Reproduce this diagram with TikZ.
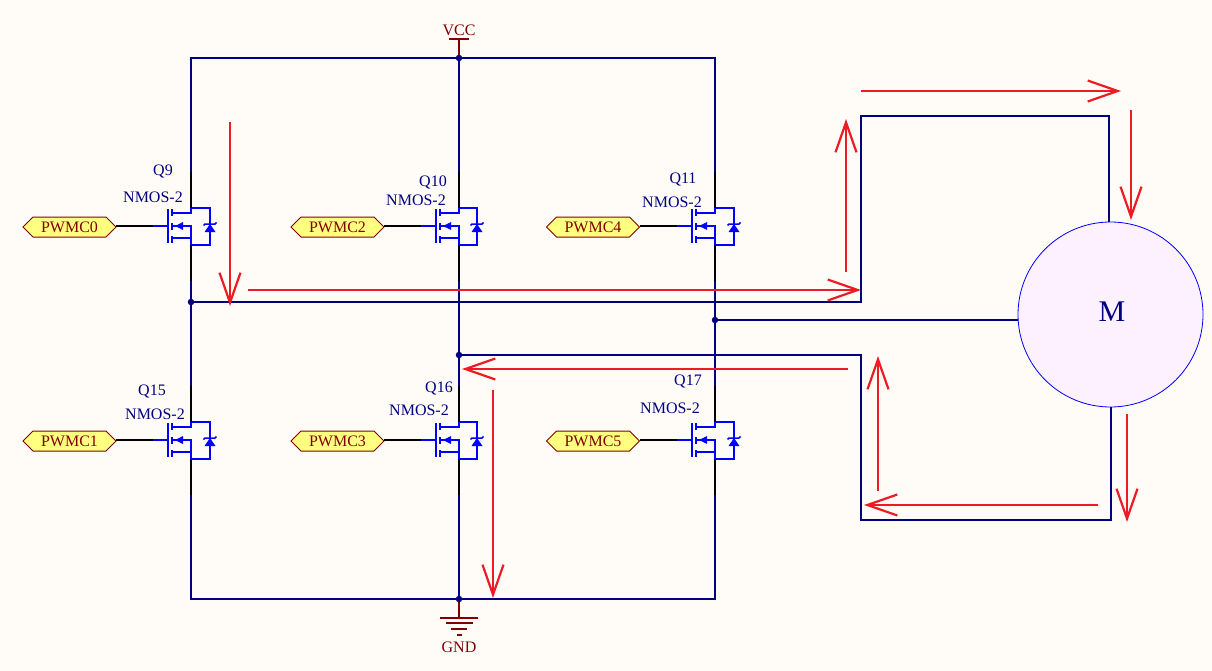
\documentclass[tikz,border=0pt]{standalone}
\usepackage{fontspec}
\setmainfont{Liberation Serif}
\usetikzlibrary{arrows.meta,shapes.symbols}
\definecolor{paper}{HTML}{FFFCF8}
\definecolor{wirenavy}{HTML}{000080}
\definecolor{netred}{HTML}{800000}
\definecolor{flowred}{HTML}{ED1C24}
\definecolor{portfill}{HTML}{FFFF80}
\definecolor{motorfill}{HTML}{FDF0FF}
\tikzset{
  nmos/.pic={
    \draw[fet] (0,-18) -- (#1,-18) -- (#1,19) -- (0,19);
    \draw[fet] (0,-18) -- (0,-13) -- (-19,-13);
    \draw[fet] (-19,0) -- (0,0) -- (0,12) -- (-19,12);
    \draw[fet] (0,19) -- (0,12);
    \draw[fet] (-38,0) -- (-23,0);
    \draw[fet] (-23,-17) -- (-23,17);
    \draw[fet] (-19,-17) -- (-19,-10);
    \draw[fet] (-19,-3) -- (-19,4);
    \draw[fet] (-19,10) -- (-19,17);
    \fill[blue] (-16,0) -- (-8,-4) -- (-8,4) -- cycle;
    \fill[blue] (#1,-2) -- (#1+5.5,6) -- (#1-5.5,6) -- cycle;
    \draw[blue, line width=1.5pt] (#1-6.5,-.5) -- (#1-5,-2) -- (#1+5,-2) -- (#1+6.5,-3.5);
    \coordinate (-d) at (0,-18);
    \coordinate (-dp) at (0,-54);
    \coordinate (-s) at (0,19);
    \coordinate (-sp) at (0,55);
    \coordinate (-g) at (-38,0);
  }
}
\begin{document}
\begin{tikzpicture}[x=1pt, y=-1pt, font=\fontsize{16}{16}\selectfont]
  \tikzstyle{fet} = [blue, line width=2.2pt]
  \tikzstyle{wire} = [wirenavy, line width=2.2pt]
  \tikzstyle{pinwire} = [black, line width=2.2pt]
  \tikzstyle{rail} = [netred, line width=2.2pt]
  \tikzstyle{flow} = [flowred, line width=2.2pt, shorten >=-3pt, -{Straight Barb[length=30pt, width=21pt]}]
  \tikzstyle{port} = [signal, signal to=west and east, draw=netred, fill=portfill, text=netred, line width=1pt,
                      minimum width=93pt, minimum height=20pt, inner sep=0pt, outer sep=0pt]
  \tikzstyle{jdot} = [circle, fill=wirenavy, minimum size=6.5pt, inner sep=0pt]
  \tikzstyle{qlabel} = [text=wirenavy, inner sep=0pt]
  \tikzstyle{netlabel} = [text=netred, inner sep=0pt]
  \fill[paper] (0,0) rectangle (1212,671);

  \pic (q9) at (191,226) {nmos=19};
  \pic (q10) at (459,226) {nmos=18};
  \pic (q11) at (715,226) {nmos=19};
  \pic (q15) at (191,440) {nmos=19};
  \pic (q16) at (459,440) {nmos=18};
  \pic (q17) at (715,440) {nmos=19};

  \node[qlabel] at (163,172) (q9name) {Q9};
  \node[qlabel] at (153,197) (q9type) {NMOS-2};
  \node[qlabel] at (433,182) (q10name) {Q10};
  \node[qlabel] at (416,200) (q10type) {NMOS-2};
  \node[qlabel] at (683,180) (q11name) {Q11};
  \node[qlabel] at (672,202) (q11type) {NMOS-2};
  \node[qlabel] at (152,391) (q15name) {Q15};
  \node[qlabel] at (155,414) (q15type) {NMOS-2};
  \node[qlabel] at (439,388.5) (q16name) {Q16};
  \node[qlabel] at (419,410) (q16type) {NMOS-2};
  \node[qlabel] at (688,381) (q17name) {Q17};
  \node[qlabel] at (670,408.5) (q17type) {NMOS-2};

  \node[port] at (69.5,227) (pwm0) {PWMC0};
  \node[port] at (337.5,227) (pwm2) {PWMC2};
  \node[port] at (593,227) (pwm4) {PWMC4};
  \node[port] at (69.5,441) (pwm1) {PWMC1};
  \node[port] at (337.5,441) (pwm3) {PWMC3};
  \node[port] at (593,441) (pwm5) {PWMC5};

  \node[circle, draw=blue, fill=motorfill, line width=.8pt, minimum size=185pt, inner sep=0pt, outer sep=0pt]
    at (1110.5,314.5) (motor) {};
  \node[text=wirenavy, font=\fontsize{30}{30}\selectfont, inner sep=0pt] at (1112,312) (mlabel) {M};

  \coordinate (tl) at (191,58);
  \coordinate (tr) at (715,58);
  \coordinate (bl) at (191,599);
  \coordinate (br) at (715,599);
  \coordinate (up1) at (861,302);
  \coordinate (up2) at (861,116);
  \coordinate (up3) at (1109,116);
  \coordinate (dn1) at (861,355);
  \coordinate (dn2) at (861,520);
  \coordinate (dn3) at (1111,520);

  \node[jdot] at (459,58) (jvcc) {};
  \node[jdot] at (191,302) (ja) {};
  \node[jdot] at (715,320) (jb) {};
  \node[jdot] at (459,355) (jc) {};
  \node[jdot] at (459,599) (jgnd) {};

  \draw[wire] (q9-dp) -- (tl) -- (tr) -- (q11-dp);
  \draw[wire] (jvcc) -- (q10-dp);
  \draw[wire] (q9-sp) -- (ja) -- (q15-dp);
  \draw[wire] (q10-sp) -- (jc) -- (q16-dp);
  \draw[wire] (q11-sp) -- (jb) -- (q17-dp);
  \draw[wire] (q15-sp) -- (bl) -- (br) -- (q17-sp);
  \draw[wire] (q16-sp) -- (jgnd);
  \draw[wire] (ja) -- (up1) -- (up2) -- (up3) -- (up3 |- motor.north);
  \draw[wire] (jb) -- (jb -| motor.west);
  \draw[wire] (jc) -- (dn1) -- (dn2) -- (dn3) -- (dn3 |- motor.south);

  \foreach \q in {q9,q10,q11,q15,q16,q17} {
    \draw[pinwire] (\q-dp) -- (\q-d);
    \draw[pinwire] (\q-s) -- (\q-sp);
  }
  \draw[pinwire] (pwm0.east |- q9-g) -- (q9-g);
  \draw[pinwire] (pwm2.east |- q10-g) -- (q10-g);
  \draw[pinwire] (pwm4.east |- q11-g) -- (q11-g);
  \draw[pinwire] (pwm1.east |- q15-g) -- (q15-g);
  \draw[pinwire] (pwm3.east |- q16-g) -- (q16-g);
  \draw[pinwire] (pwm5.east |- q17-g) -- (q17-g);

  % supply symbols
  \coordinate (vccbar) at (459,39);
  \node[netlabel] at (459,30) (vcc) {VCC};
  \draw[rail] (jvcc) -- (vccbar);
  \draw[rail] (449,39) -- (469,39);
  \coordinate (gndbar) at (459,618);
  \node[netlabel] at (459,647) (gnd) {GND};
  \draw[rail] (jgnd) -- (gndbar);
  \draw[rail] (440,618) -- (478,618);
  \draw[rail] (446,623) -- (473,623);
  \draw[rail] (451,629) -- (467,629);
  \draw[rail] (457,635) -- (462,635);

  % current paths
  \coordinate (a1) at (230,122); \coordinate (b1) at (230,303);
  \coordinate (a2) at (248,290); \coordinate (b2) at (858,290);
  \coordinate (a3) at (846,272); \coordinate (b3) at (846,122);
  \coordinate (a4) at (861,91); \coordinate (b4) at (1118,91);
  \coordinate (a5) at (1131,110); \coordinate (b5) at (1131,217);
  \coordinate (a6) at (1127,414); \coordinate (b6) at (1127,519);
  \coordinate (a7) at (1098,505); \coordinate (b7) at (867,505);
  \coordinate (a8) at (878,491); \coordinate (b8) at (878,359);
  \coordinate (a9) at (848,369); \coordinate (b9) at (465,369);
  \coordinate (a10) at (493,390); \coordinate (b10) at (493,595);
  \foreach \i in {1,...,10}
    \draw[flow] (a\i) -- (b\i);
\end{tikzpicture}
\end{document}
